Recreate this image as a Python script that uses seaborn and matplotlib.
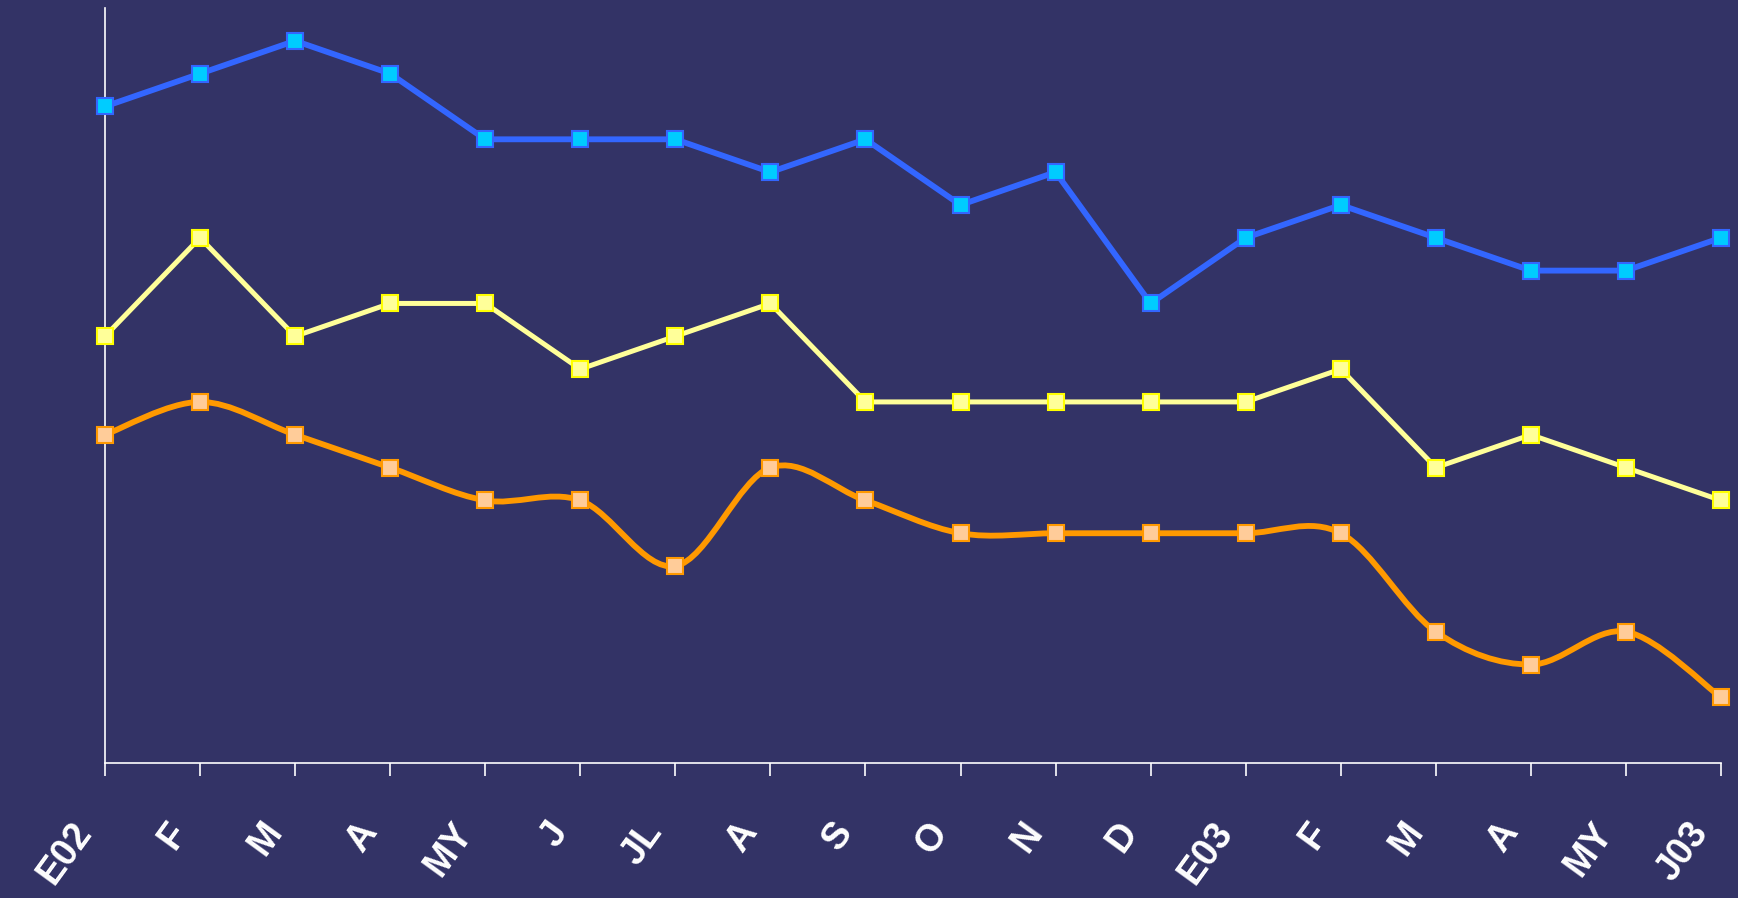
import numpy as np
import matplotlib
matplotlib.use('Agg')
import matplotlib.pyplot as plt
import seaborn as sns
from matplotlib.path import Path
from matplotlib.patches import PathPatch
from matplotlib.transforms import ScaledTranslation

months = ['E02', 'F', 'M', 'A', 'MY', 'J', 'JL', 'A', 'S', 'O', 'N', 'D',
          'E03', 'F', 'M', 'A', 'MY', 'J03']
blue_vals = [20, 21, 22, 21, 19, 19, 19, 18, 19, 17, 18, 14, 16, 17, 16, 15, 15, 16]
yellow_vals = [13, 16, 13, 14, 14, 12, 13, 14, 11, 11, 11, 11, 11, 12, 9, 10, 9, 8]
orange_vals = [10, 11, 10, 9, 8, 8, 6, 9, 8, 7, 7, 7, 7, 7, 4, 3, 4, 2]

BG = '#333366'

sns.set_style('white', {'axes.facecolor': BG, 'figure.facecolor': BG})
plt.rcParams['font.family'] = ['Liberation Sans', 'DejaVu Sans']


def smooth_path(xs, ys):
    # bezier curve through the points (excel-like "smoothed line")
    pts = np.column_stack([xs, ys]).astype(float)
    verts = [pts[0]]
    codes = [Path.MOVETO]
    n = len(pts)
    for i in range(n - 1):
        p0 = pts[i - 1] if i > 0 else pts[i]
        p1 = pts[i]
        p2 = pts[i + 1]
        p3 = pts[i + 2] if i + 2 < n else pts[i + 1]
        c1 = p1 + (p2 - p0) / 6.0
        c2 = p2 - (p3 - p1) / 6.0
        verts += [c1, c2, p2]
        codes += [Path.CURVE4] * 3
    return Path(verts, codes)


x = np.arange(len(months))

fig = plt.figure(figsize=(17.38, 8.98), dpi=100, facecolor=BG)
ax = fig.add_axes([0.0604, 0.1503, 0.9298, 0.8408])
ax.set_facecolor(BG)

# orange: smoothed line + markers
ax.add_patch(PathPatch(smooth_path(x, orange_vals), facecolor='none',
                       edgecolor='#FF9900', linewidth=4.2, clip_on=False, zorder=2))
sns.lineplot(x=x, y=orange_vals, ax=ax, linestyle='none', marker='s',
             markersize=11.5, markerfacecolor='#FFCC99', markeredgecolor='#FF9900',
             markeredgewidth=1.5, clip_on=False, zorder=3)

sns.lineplot(x=x, y=yellow_vals, ax=ax, color='#FFFF99', linewidth=3.6, marker='s',
             markersize=11.5, markerfacecolor='#FFFF99', markeredgecolor='#FFFF00',
             markeredgewidth=1.5, clip_on=False, zorder=3)

sns.lineplot(x=x, y=blue_vals, ax=ax, color='#3366FF', linewidth=4.2, marker='s',
             markersize=11.5, markerfacecolor='#00CCFF', markeredgecolor='#3366FF',
             markeredgewidth=1.5, clip_on=False, zorder=3)

ax.set_xlim(0, 17)
ax.set_ylim(0, 23)
ax.set_yticks([])
ax.set_xticks(x)
ax.set_xticklabels(months, rotation=54, ha='right', va='center',
                   rotation_mode='anchor', fontsize=27, fontweight='bold',
                   color='white')
ax.tick_params(axis='x', length=9.5, width=1.2, color='white', pad=36,
               direction='out', bottom=True)
for lbl in ax.get_xticklabels():
    lbl.set_transform(lbl.get_transform() + ScaledTranslation(-0.2, 0, fig.dpi_scale_trans))

for side in ['top', 'right']:
    ax.spines[side].set_visible(False)
for side in ['left', 'bottom']:
    ax.spines[side].set_color('white')
    ax.spines[side].set_linewidth(1.2)

ax.set_xlabel('')
ax.set_ylabel('')

fig.savefig('out.png', dpi=100, facecolor=BG)
